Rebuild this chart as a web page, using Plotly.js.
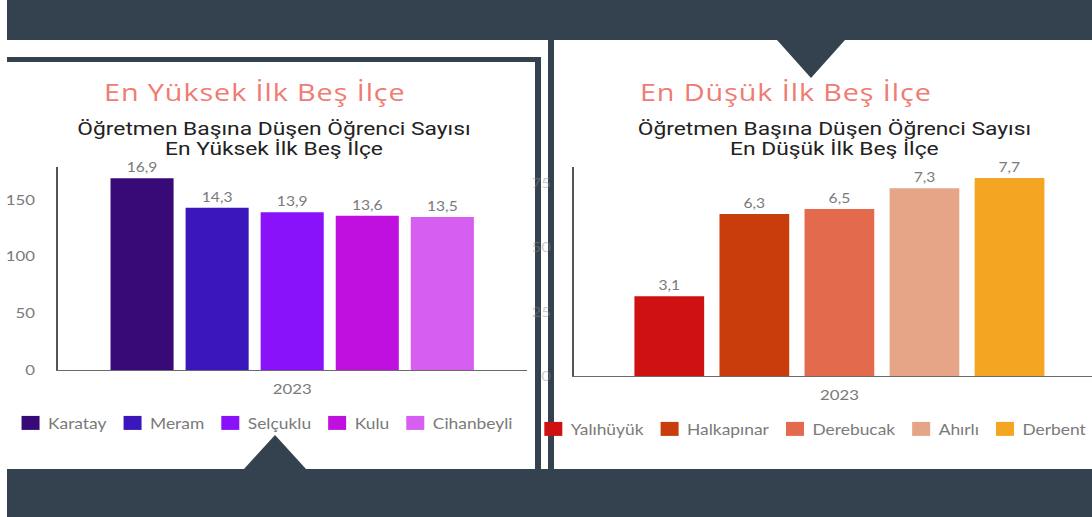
<!DOCTYPE html>
<html>
<head>
<meta charset="utf-8">
<script src="https://cdn.plot.ly/plotly-3.0.1.min.js"></script>
<style>
  html, body { margin:0; padding:0; background:#ffffff; }
  body { width:1092px; height:517px; overflow:hidden; position:relative; }
  #chrome { position:absolute; left:0; top:0; }
  #stage { position:absolute; left:0; top:0; width:940px; height:517px; transform:scaleX(1.2); transform-origin:0 0; }
  .heading { position:absolute; font-family:"Open Sans", sans-serif; font-size:24px; color:#ef7b72; letter-spacing:0.75px; white-space:nowrap; line-height:1; }
  #chartA { position:absolute; left:0; top:0; width:455px; height:517px; }
  #chartB { position:absolute; left:416.7px; top:0; width:521.6px; height:517px; }
</style>
</head>
<body>
<svg id="chrome" width="1092" height="517">
  <rect x="7" y="0" width="1085" height="40" fill="#344250"/>
  <rect x="7" y="469" width="1085" height="48" fill="#344250"/>
  <rect x="7" y="57" width="534" height="5" fill="#344250"/>
  <rect x="535" y="57" width="6" height="412" fill="#344250"/>
  <rect x="548" y="0" width="6" height="517" fill="#344250"/>
  <polygon points="777,40 845,40 811,78" fill="#344250"/>
  <polygon points="244,469 306,469 275,435" fill="#344250"/>
</svg>
<div id="stage">
  <div class="heading" style="left:86.7px; top:80px;">En Yüksek İlk Beş İlçe</div>
  <div class="heading" style="left:533.3px; top:80px;">En Düşük İlk Beş İlçe</div>
  <div id="chartA"></div>
  <div id="chartB"></div>
</div>
<script>
const years = ["2023"];

const highNames = ["Karatay", "Meram", "Selçuklu", "Kulu", "Cihanbeyli"];
const highValues = [169, 143, 139, 136, 135];
const highLabels = ["16,9", "14,3", "13,9", "13,6", "13,5"];
const highColors = ["#380a78", "#3c16bd", "#8a12fa", "#c010e0", "#d65ef0"];

const lowNames = ["Yalıhüyük", "Halkapınar", "Derebucak", "Ahırlı", "Derbent"];
const lowValues = [31, 63, 65, 73, 77];
const lowLabels = ["3,1", "6,3", "6,5", "7,3", "7,7"];
const lowColors = ["#cf1111", "#c93c0c", "#e46a4e", "#e5a586", "#f4a521"];

const highTicks = [0, 50, 100, 150];
const lowTicks = [0, 25, 50, 75];

const titleMain = "Öğretmen Başına Düşen Öğrenci Sayısı";
const highSub = "En Yüksek İlk Beş İlçe";
const lowSub = "En Düşük İlk Beş İlçe";

const FONT = "Lato, 'Open Sans', sans-serif";
const TITLE_FONT = { family: "Roboto, Arial, sans-serif", size: 19, color: "#222222" };

function makeTraces(names, values, labels, colors) {
  return names.map((n, i) => ({
    type: "bar",
    name: n,
    x: years,
    y: [values[i]],
    text: [labels[i]],
    textposition: "outside",
    cliponaxis: false,
    textfont: { family: FONT, size: 13, color: "#7a7a7a" },
    marker: { color: colors[i] },
    hoverinfo: "name+y"
  }));
}

function makeLayout(opts) {
  return {
    width: opts.width, height: 517,
    paper_bgcolor: "rgba(0,0,0,0)",
    plot_bgcolor: "rgba(0,0,0,0)",
    margin: opts.margin,
    barmode: "group",
    bargap: 0.2,
    bargroupgap: opts.groupgap,
    showlegend: true,
    title: {
      text: titleMain + "<br>" + opts.sub,
      font: TITLE_FONT,
      xref: "container", x: opts.titleX, xanchor: "center",
      yref: "container", y: 1 - 135.5 / 517, yanchor: "middle"
    },
    font: { family: FONT, color: "#7a7a7a" },
    xaxis: {
      type: "category",
      showline: true, linecolor: "#6a6a6a", linewidth: 1,
      showgrid: false, zeroline: false,
      ticks: "", ticklabelstandoff: 6,
      tickfont: { family: FONT, size: 14, color: "#7a7a7a" }
    },
    yaxis: {
      range: opts.range,
      tickvals: opts.ticks,
      showline: true, linecolor: "#555555", linewidth: 1,
      showgrid: false, zeroline: false,
      ticks: "", ticklabelstandoff: 15,
      tickfont: { family: FONT, size: 14, color: opts.tickColor }
    },
    legend: {
      orientation: "h",
      xref: "container", x: opts.legendX, xanchor: "left",
      yref: "container", y: opts.legendY, yanchor: "top",
      font: { family: FONT, size: 14.5, color: "#7a7a7a" },
      bgcolor: "rgba(0,0,0,0)",
      traceorder: "normal"
    }
  };
}

const layoutA = makeLayout({
  width: 455,
  margin: { l: 47.5, r: 15.8, t: 167, b: 147, pad: 0 },
  groupgap: 0.16,
  sub: highSub,
  titleX: 0.5018,
  range: [0, 179],
  ticks: highTicks,
  tickColor: "#7a7a7a",
  legendX: 0.0120,
  legendY: 0.2128
});

const layoutB = makeLayout({
  width: 521.6,
  margin: { l: 60.8, r: 17.5, t: 167, b: 141, pad: 0 },
  groupgap: 0.18,
  sub: lowSub,
  titleX: 0.5336,
  range: [0, 81.3],
  ticks: lowTicks,
  tickColor: "rgba(140,140,140,0.45)",
  legendX: 0.0462,
  legendY: 0.2012
});

const config = { displayModeBar: false, staticPlot: true };

// Tighter line spacing for the two-line title, as in the original dashboard
function styleTitle(gd) {
  const lines = gd.querySelectorAll(".gtitle tspan.line");
  lines.forEach((t, i) => { if (i > 0) t.setAttribute("dy", "1.05em"); });
}

// Restyle legend entries: wider swatches, one row, tighter spacing like the original dashboard
function styleLegend(gd) {
  gd.querySelectorAll(".legendpoints path").forEach(p => {
    p.setAttribute("d", "M7.5,7H-7.5V-7H7.5Z");
  });
  gd.querySelectorAll(".legend [clip-path]").forEach(el => el.removeAttribute("clip-path"));
  const items = gd.querySelectorAll(".legend .traces");
  let x = null, y = null;
  items.forEach(g => {
    const m = /translate\(\s*([-\d.]+)[ ,]+([-\d.]+)\s*\)/.exec(g.getAttribute("transform") || "");
    if (!m) return;
    if (x === null) { x = parseFloat(m[1]); y = parseFloat(m[2]); }
    g.setAttribute("transform", "translate(" + x + "," + y + ")");
    const t = g.querySelector("text.legendtext");
    t.setAttribute("x", 34.6);
    const w = t.getComputedTextLength();
    x += 34.6 + w + 1.7;
  });
}

function finish(gd) { styleTitle(gd); styleLegend(gd); }

Plotly.newPlot("chartA", makeTraces(highNames, highValues, highLabels, highColors), layoutA, config)
  .then(finish);
Plotly.newPlot("chartB", makeTraces(lowNames, lowValues, lowLabels, lowColors), layoutB, config)
  .then(finish);
</script>
</body>
</html>
